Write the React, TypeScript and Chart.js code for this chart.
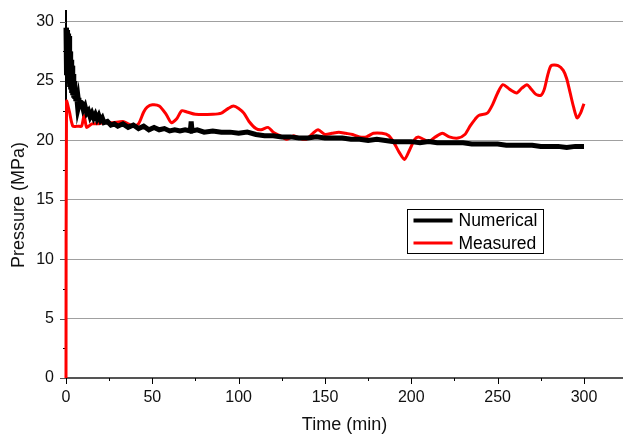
import React, { useEffect, useRef } from 'react';
import { Chart, registerables } from 'chart.js';

Chart.register(...registerables);

// ---- data ----
const numericalTime = [0, 0.3, 0.6, 0.9, 1.2, 1.5, 1.8, 2.1, 2.4, 2.7, 3.0, 3.3, 3.6, 3.9, 4.2, 4.5, 4.8, 5.1, 5.4, 5.7, 6, 6.5, 7, 7.5, 8, 9, 10, 11, 12, 13, 14, 15, 16, 17, 18, 19, 20, 21, 22, 24, 26, 28, 30, 33, 36, 39, 42, 45, 48, 51, 54, 57, 60, 63, 66, 69, 72, 72.5, 73, 76, 80, 85, 90, 95, 100, 105, 110, 115, 120, 125, 130, 135, 140, 145, 150, 155, 160, 165, 170, 175, 180, 185, 190, 195, 200, 205, 210, 215, 220, 225, 230, 235, 240, 245, 250, 255, 260, 265, 270, 275, 280, 285, 290, 295, 300];
const numericalPressure = [29.5, 25.5, 29.3, 24.8, 29.0, 25.2, 28.8, 24.5, 27.5, 24.3, 26.8, 24.0, 26.3, 23.8, 25.6, 23.6, 25.0, 23.5, 24.4, 23.3, 24.0, 23.2, 23.6, 23.0, 23.3, 23.2, 22.6, 22.9, 22.3, 22.5, 22.0, 22.3, 21.9, 22.2, 21.8, 22.1, 21.7, 21.9, 21.5, 21.6, 21.3, 21.4, 21.2, 21.4, 21.1, 21.3, 21.0, 21.2, 20.9, 21.1, 20.9, 21.0, 20.8, 20.9, 20.8, 20.9, 20.8, 21.6, 20.8, 20.9, 20.7, 20.8, 20.7, 20.7, 20.6, 20.7, 20.5, 20.4, 20.4, 20.3, 20.3, 20.2, 20.2, 20.3, 20.2, 20.2, 20.2, 20.1, 20.1, 20.0, 20.1, 20.0, 19.9, 19.9, 19.9, 19.8, 19.9, 19.8, 19.8, 19.8, 19.8, 19.7, 19.7, 19.7, 19.7, 19.6, 19.6, 19.6, 19.6, 19.5, 19.5, 19.5, 19.4, 19.5, 19.5];

const measuredTime = [0, 0.3, 2, 4, 7, 9, 10.5, 12, 15, 18, 22, 27, 33, 36, 39, 42, 45, 47, 50, 54, 58, 61, 64, 67, 70, 75, 85, 90, 94, 97, 100, 103, 106, 110, 113, 117, 120, 124, 128, 132, 135, 139, 143, 146, 150, 154, 158, 162, 166, 170, 174, 178, 183, 187, 190, 193, 196, 199, 202, 204, 207, 210, 214, 218, 222, 227, 231, 234, 237, 239, 244, 247, 250, 253, 257, 261, 264, 267, 269, 272, 275, 277, 279, 281, 285, 288, 290, 292, 294, 296, 298, 300];
const measuredPressure = [0, 23.3, 22.4, 21.2, 21.2, 21.2, 22.1, 21.1, 21.4, 21.4, 21.5, 21.5, 21.6, 21.4, 21.2, 21.4, 22.4, 22.8, 23.0, 22.9, 22.2, 21.5, 21.8, 22.5, 22.4, 22.2, 22.2, 22.3, 22.7, 22.9, 22.7, 22.3, 21.6, 21.0, 20.9, 21.1, 20.7, 20.4, 20.1, 20.4, 20.2, 20.1, 20.6, 20.9, 20.5, 20.6, 20.7, 20.6, 20.5, 20.3, 20.3, 20.6, 20.6, 20.4, 19.8, 19.0, 18.4, 19.2, 20.1, 20.3, 20.1, 19.9, 20.3, 20.6, 20.3, 20.2, 20.5, 21.2, 21.8, 22.1, 22.3, 23.0, 24.0, 24.7, 24.3, 24.0, 24.4, 24.7, 24.4, 23.9, 23.8, 24.3, 25.5, 26.3, 26.3, 25.9, 25.2, 24.0, 22.8, 21.9, 22.3, 23.1];

const seriesLabels = ['Numerical', 'Measured'];
const seriesColors = ['#000000', '#ff0000'];
const xTitle = 'Time (min)';
const yTitle = 'Pressure (MPa)';
const xMajorStep = 50;
const xMinorStep = 25;
const yMajorStep = 5;
const yMinorStep = 2.5;

const FONT = '"Liberation Sans", Arial, sans-serif';

const axisDecor = {
  id: 'axisDecor',
  beforeDatasetsDraw(chart: any) {
    const { ctx, scales } = chart;
    const xs = scales.x;
    const ys = scales.y;
    const area = chart.chartArea;
    ctx.save();
    ctx.lineWidth = 1;
    for (let v = 0; v <= ys.max + 1e-6; v += yMinorStep) {
      const major = Math.abs(v / yMajorStep - Math.round(v / yMajorStep)) < 1e-6;
      const py = Math.round(ys.getPixelForValue(v)) + 0.5;
      ctx.strokeStyle = major ? '#555' : '#000';
      ctx.beginPath();
      ctx.moveTo(area.left - (major ? 6 : 3), py);
      ctx.lineTo(area.left, py);
      ctx.stroke();
    }
    for (let v = 0; v <= xs.max + 1e-6; v += xMinorStep) {
      const major = Math.abs(v / xMajorStep - Math.round(v / xMajorStep)) < 1e-6;
      const px = Math.round(xs.getPixelForValue(v)) + 0.5;
      ctx.strokeStyle = '#000';
      ctx.beginPath();
      ctx.moveTo(px, area.bottom);
      ctx.lineTo(px, area.bottom + (major ? 6 : 3));
      ctx.stroke();
    }
    ctx.restore();
  },
  afterDraw(chart: any) {
    const { ctx } = chart;
    const area = chart.chartArea;
    ctx.save();
    ctx.fillStyle = '#111';
    ctx.textAlign = 'center';
    ctx.textBaseline = 'middle';
    ctx.font = `18px ${FONT}`;
    ctx.fillText(xTitle, (area.left + area.right) / 2, 425);
    ctx.translate(19, 205);
    ctx.rotate(-Math.PI / 2);
    ctx.fillText(yTitle, 0, 0);
    ctx.restore();

    const bx = 407.5, by = 209.5, bw = 136, bh = 44;
    ctx.save();
    ctx.fillStyle = '#fff';
    ctx.fillRect(bx, by, bw, bh);
    ctx.strokeStyle = '#000';
    ctx.lineWidth = 1;
    ctx.strokeRect(bx, by, bw, bh);
    ctx.font = `17.5px ${FONT}`;
    ctx.textAlign = 'left';
    ctx.textBaseline = 'middle';
    chart.data.datasets.forEach((ds: any, i: number) => {
      const y = by + 11 + i * 22.5;
      ctx.strokeStyle = ds.borderColor;
      ctx.lineWidth = i === 0 ? 4 : 3;
      ctx.beginPath();
      ctx.moveTo(bx + 6, y);
      ctx.lineTo(bx + 45, y);
      ctx.stroke();
      ctx.fillStyle = '#000';
      ctx.fillText(ds.label, bx + 51, y + 1);
    });
    ctx.restore();
  },
};

export default function App() {
  const ref = useRef<HTMLCanvasElement | null>(null);
  useEffect(() => {
    if (!ref.current) return;
    const chart = new Chart(ref.current, {
      type: 'line',
      data: {
        datasets: [
          {
            label: seriesLabels[0],
            data: numericalTime.map((t, i) => ({ x: t, y: numericalPressure[i] })),
            borderColor: seriesColors[0],
            backgroundColor: seriesColors[0],
            borderWidth: 5,
            pointRadius: 0,
            tension: 0,
            clip: false as any,
          },
          {
            label: seriesLabels[1],
            data: measuredTime.map((t, i) => ({ x: t, y: measuredPressure[i] })),
            borderColor: seriesColors[1],
            backgroundColor: seriesColors[1],
            borderWidth: 3,
            pointRadius: 0,
            tension: 0.25,
            clip: false as any,
          },
        ],
      },
      options: {
        responsive: false,
        animation: false,
        devicePixelRatio: 1,
        layout: { padding: { top: 11, right: 0, left: 0, bottom: 0 } },
        plugins: { legend: { display: false }, tooltip: { enabled: false } },
        scales: {
          x: {
            type: 'linear',
            min: 0,
            max: 322.6,
            grid: { display: false, drawTicks: false },
            border: { display: true, color: '#555', width: 2 },
            ticks: {
              stepSize: xMajorStep,
              includeBounds: false,
              padding: 10,
              color: '#111',
              font: { family: FONT, size: 16 },
              maxRotation: 0,
            },
            afterFit: (s: any) => { s.height = 60; s.paddingLeft = 0; s.paddingRight = 0; },
          },
          y: {
            type: 'linear',
            min: 0,
            max: 30.9,
            grid: { color: '#a0a0a0', lineWidth: 1, drawTicks: false },
            border: { display: true, color: '#000', width: 2 },
            ticks: {
              stepSize: yMajorStep,
              includeBounds: false,
              padding: 12,
              color: '#111',
              font: { family: FONT, size: 16 },
            },
            afterFit: (s: any) => { s.width = 66; s.paddingTop = 0; s.paddingBottom = 0; },
          },
        },
      },
      plugins: [axisDecor],
    } as any);
    return () => chart.destroy();
  }, []);
  return (
    <div style={{ position: 'fixed', left: 0, top: 0, width: 623, height: 438, background: '#fff' }}>
      <canvas ref={ref} width={623} height={438} />
    </div>
  );
}
